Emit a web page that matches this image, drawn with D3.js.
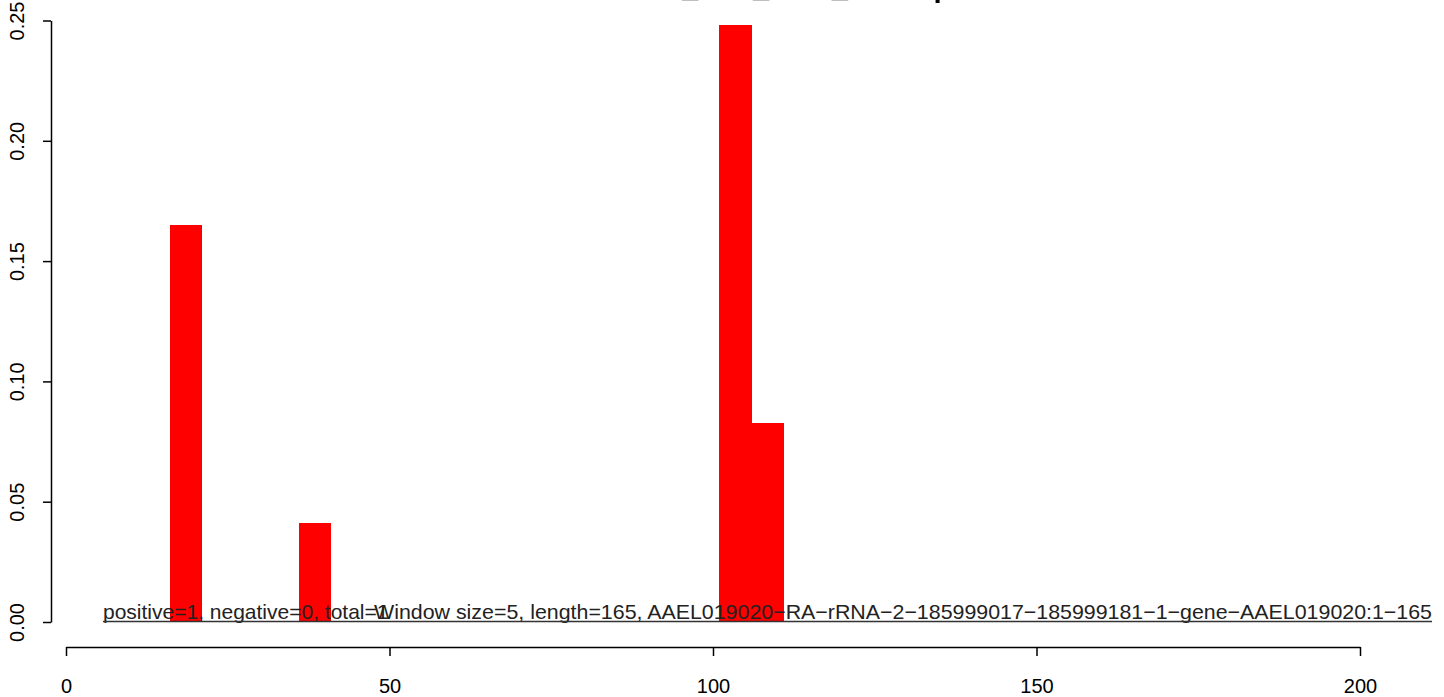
<!DOCTYPE html>
<html>
<head>
<meta charset="utf-8">
<script src="https://cdn.jsdelivr.net/npm/d3@7"></script>
<style>
  html, body { margin: 0; padding: 0; background: #fff; }
  svg { display: block; font-family: "Liberation Sans", Arial, sans-serif; }
</style>
</head>
<body>
<svg id="chart" width="1444" height="697"></svg>
<script>
// ---- data ----
const windowStarts = [16, 36, 101, 106];
const windowValues = [0.165, 0.041, 0.248, 0.0826];
const windowSize = 5;
const xTicks = [0, 50, 100, 150, 200];
const yTicks = [0, 0.05, 0.10, 0.15, 0.20, 0.25];
const titleText = "AAEL019020_Cov_RNA_reads.plot";
const countsText = "positive=1, negative=0, total=1";
const infoText = "Window size=5, length=165, AAEL019020\u2212RA\u2212rRNA\u22122\u2212185999017\u2212185999181\u22121\u2212gene\u2212AAEL019020:1\u2212165";

const svg = d3.select("#chart");
const x = d3.scaleLinear().domain([0, 200]).range([66, 1360]);
const y = d3.scaleLinear().domain([0, 0.25]).range([622, 20.5]);

// bars
svg.append("g").selectAll("rect")
  .data(windowStarts.map((s, i) => ({ s, v: windowValues[i] })))
  .join("rect")
  .attr("x", d => x(d.s))
  .attr("width", d => x(d.s + windowSize) - x(d.s))
  .attr("y", d => y(d.v))
  .attr("height", d => y(0) - y(d.v))
  .attr("fill", "#ff0000")
  .attr("shape-rendering", "crispEdges");

// y axis
const yAxis = d3.axisLeft(y).tickValues(yTicks).tickFormat(d3.format(".2f")).tickSize(8).tickSizeOuter(0);
const gy = svg.append("g").attr("transform", "translate(51,0)").call(yAxis);
gy.select(".domain").attr("stroke", "#000").attr("stroke-width", 1.5);
gy.selectAll(".tick line").attr("stroke", "#000").attr("stroke-width", 1.5);
gy.selectAll(".tick text")
  .attr("font-size", 20).attr("fill", "#000")
  .attr("x", null).attr("dy", null)
  .attr("text-anchor", "middle")
  .attr("transform", "translate(-27,0) rotate(-90)")
  .attr("y", 0);

// x axis
const xAxis = d3.axisBottom(x).tickValues(xTicks).tickFormat(d3.format("d")).tickSize(9).tickSizeOuter(0);
const gx = svg.append("g").attr("transform", "translate(0,647)").call(xAxis);
gx.select(".domain").attr("stroke", "#000").attr("stroke-width", 1.5);
gx.selectAll(".tick line").attr("stroke", "#000").attr("stroke-width", 1.5);
gx.selectAll(".tick text").attr("font-size", 20).attr("fill", "#000").attr("y", 46).attr("dy", null);

svg.selectAll(".tick text").attr("font-family", "'Liberation Sans', Arial, sans-serif");

// footer texts
svg.append("text").attr("x", 103).attr("y", 619)
  .attr("font-size", 21).attr("fill", "#222").text(countsText);
svg.append("text").attr("x", 374).attr("y", 619)
  .attr("textLength", 1058).attr("lengthAdjust", "spacingAndGlyphs")
  .attr("font-size", 21).attr("fill", "#222").text(infoText);
svg.append("line")
  .attr("x1", 103).attr("x2", 1432)
  .attr("y1", 621.5).attr("y2", 621.5)
  .attr("stroke", "#333").attr("stroke-width", 1.5);

// title (mostly above the visible area, as in the reference)
const title = svg.append("text").attr("y", -3)
  .attr("font-size", 29).attr("font-weight", "bold").attr("fill", "#000").text(titleText);
const probe = svg.append("text").attr("font-size", 29).attr("font-weight", "bold")
  .text(titleText.slice(0, titleText.indexOf("_")));
const prefixW = probe.node().getComputedTextLength();
probe.remove();
title.attr("x", 682 - prefixW);
</script>
</body>
</html>
